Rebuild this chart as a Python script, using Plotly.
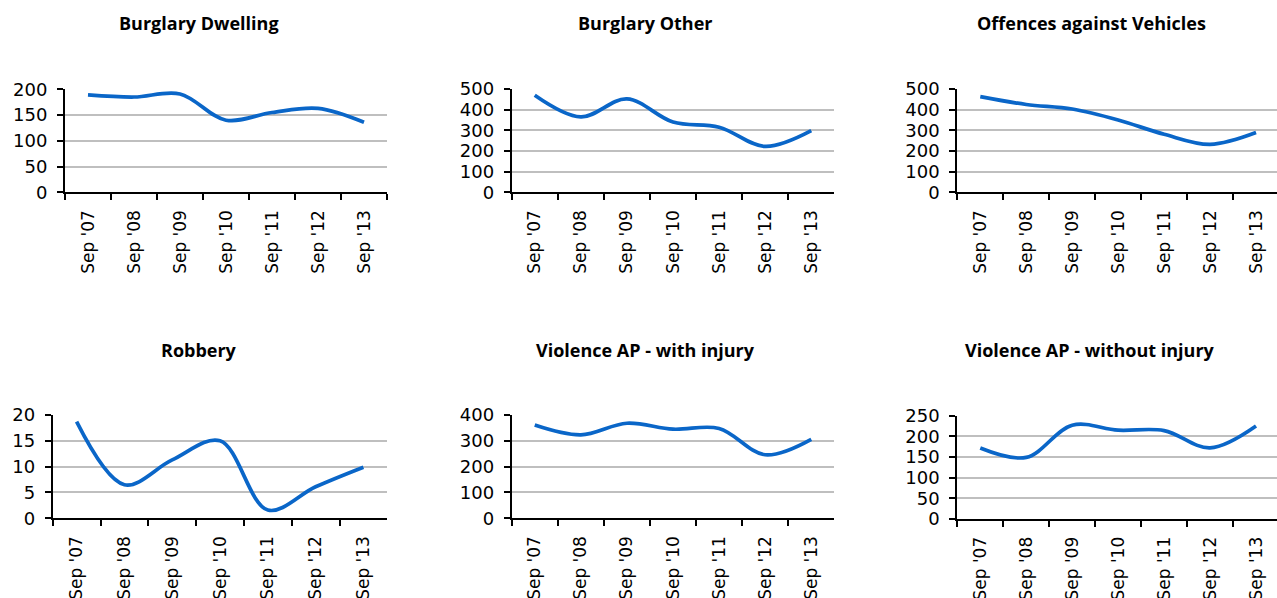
import plotly.graph_objects as go

# Canvas size in pixels
W, H = 1277, 598

# Category labels shared by every panel
periods = ["Sep '07", "Sep '08", "Sep '09", "Sep '10", "Sep '11", "Sep '12", "Sep '13"]

# Panel titles
titles = [
    "Burglary Dwelling",
    "Burglary Other",
    "Offences against Vehicles",
    "Robbery",
    "Violence AP - with injury",
    "Violence AP - without injury",
]

# Series values, one list per offence type
burglary_dwelling = [189, 185, 191, 140, 155, 163, 136]
burglary_other = [470, 365, 452, 340, 315, 222, 298]
vehicle_offences = [463, 425, 403, 350, 281, 232, 289]
robbery = [18.7, 6.5, 11.3, 15.0, 1.6, 6.1, 9.9]
violence_injury = [361, 323, 368, 345, 348, 246, 306]
violence_no_injury = [172, 149, 227, 215, 214, 172, 225]

series = [burglary_dwelling, burglary_other, vehicle_offences,
          robbery, violence_injury, violence_no_injury]

# Y-axis maxima and tick steps
y_max = [200, 500, 500, 20, 400, 250]
y_step = [50, 100, 100, 5, 100, 50]

# Panel geometry in pixels: plot left, right, top, bottom, title centre x, title y
panels = [
    dict(l=65, r=387, t=89.3, b=192.3, tx=199, ty=23),
    dict(l=511.7, r=834.3, t=89, b=192.3, tx=645, ty=23),
    dict(l=957.3, r=1279, t=89, b=192.3, tx=1091, ty=23),
    dict(l=52.7, r=387.3, t=415, b=518.3, tx=199, ty=350),
    dict(l=511.7, r=834.3, t=415, b=518.3, tx=645, ty=350),
    dict(l=957.3, r=1279, t=415.7, b=519, tx=1090, ty=350),
]

LINE_BLUE = "#0A66C8"
GRID = "#BFBFBF"
TICK_FONT = "DejaVu Sans"
TITLE_FONT = "Open Sans"

fig = go.Figure()
annotations = []

for i, (vals, p) in enumerate(zip(series, panels)):
    n = i + 1
    xa = "x" if n == 1 else f"x{n}"
    ya = "y" if n == 1 else f"y{n}"
    fig.add_trace(go.Scatter(
        x=periods, y=vals, xaxis=xa, yaxis=ya,
        mode="lines",
        line=dict(color=LINE_BLUE, width=3.7, shape="spline", smoothing=1),
        hoverinfo="x+y", showlegend=False,
    ))

    # Clip the right-most panels at the canvas edge, keeping category spacing
    full_w = p["r"] - p["l"]
    right = min(p["r"], W)
    x_hi = -0.5 + 7 * (right - p["l"]) / full_w

    xkey = "xaxis" if n == 1 else f"xaxis{n}"
    ykey = "yaxis" if n == 1 else f"yaxis{n}"
    fig.update_layout({
        xkey: dict(
            domain=[p["l"] / W, right / W],
            anchor=ya,
            type="category",
            range=[-0.5, x_hi],
            automargin=False,
            tickson="boundaries",
            ticks="outside", ticklen=6, tickwidth=1.5, tickcolor="black",
            showline=True, linecolor="black", linewidth=2,
            showgrid=False, zeroline=False,
            tickangle=-90,
            ticklabelstandoff=9,
            tickfont=dict(family=TICK_FONT, size=17, color="black"),
        ),
        ykey: dict(
            domain=[1 - p["b"] / H, 1 - p["t"] / H],
            anchor=xa,
            range=[0, y_max[i]],
            automargin=False,
            dtick=y_step[i], tick0=0,
            ticks="outside", ticklen=6, tickwidth=1.5, tickcolor="black",
            showline=True, linecolor="black", linewidth=2,
            showgrid=True, gridcolor=GRID, gridwidth=1.5,
            zeroline=False,
            ticklabelstandoff=6,
            tickfont=dict(family=TICK_FONT, size=18, color="black"),
        ),
    })

    annotations.append(dict(
        text=f"<b>{titles[i]}</b>",
        x=p["tx"] / W, y=1 - p["ty"] / H,
        xref="paper", yref="paper",
        xanchor="center", yanchor="middle",
        showarrow=False,
        font=dict(family=TITLE_FONT, size=18, color="black"),
    ))

fig.update_layout(
    width=W, height=H,
    margin=dict(l=0, r=0, t=0, b=0),
    paper_bgcolor="white", plot_bgcolor="white",
    annotations=annotations,
)

fig.write_html("out.html")
